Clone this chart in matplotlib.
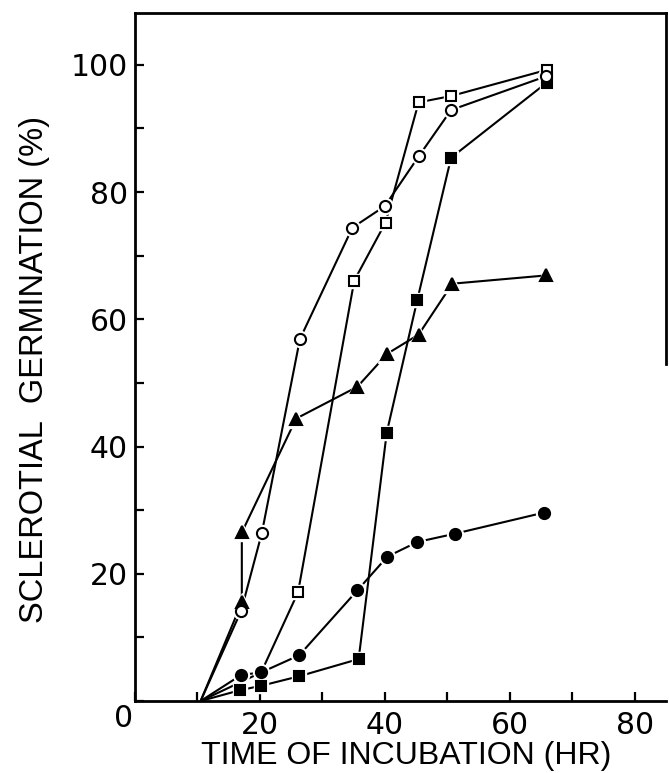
import matplotlib
matplotlib.use('Agg')
import matplotlib.pyplot as plt

# time of incubation (hr) and germination (%) for each treatment
open_circle_x = [10.5, 17.0, 20.3, 26.4, 34.8, 40.0, 45.4, 50.6, 65.8]
open_circle_y = [0, 14.2, 26.4, 56.9, 74.4, 77.8, 85.6, 92.9, 98.2]

open_square_x = [10.5, 20.2, 26.1, 35.1, 40.1, 45.4, 50.6, 65.9]
open_square_y = [0, 4.5, 17.1, 66.1, 75.2, 94.1, 95.1, 99.2]

triangle_x = [10.5, 17.1, 17.1, 25.8, 35.6, 40.4, 45.4, 50.8, 65.8]
triangle_y = [0, 15.5, 26.5, 44.4, 49.4, 54.6, 57.6, 65.6, 66.9]

filled_square_x = [10.5, 16.8, 20.2, 26.3, 35.8, 40.3, 45.2, 50.6, 65.9]
filled_square_y = [0, 1.7, 2.4, 3.9, 6.6, 42.2, 63.1, 85.4, 97.2]

filled_circle_x = [10.5, 17.0, 20.2, 26.3, 35.6, 40.4, 45.2, 51.2, 65.4]
filled_circle_y = [0, 4.1, 4.5, 7.2, 17.4, 22.7, 25.0, 26.3, 29.6]

x_ticks = [0, 10, 20, 30, 40, 50, 60, 70, 80]
x_ticklabels = ['', '', '20', '', '40', '', '60', '', '80']
y_ticks = [0, 10, 20, 30, 40, 50, 60, 70, 80, 90, 100]
y_ticklabels = ['', '', '20', '', '40', '', '60', '', '80', '', '100']

# (x, y, marker, size, filled, first marked point)
# the origin carries no marker; the open square at 20 hr hides under the filled circle
series = [
    (triangle_x, triangle_y, '^', 9, True, 1),
    (open_square_x, open_square_y, 's', 7, False, 2),
    (filled_square_x, filled_square_y, 's', 7, True, 1),
    (filled_circle_x, filled_circle_y, 'o', 8, True, 1),
    (open_circle_x, open_circle_y, 'o', 8, False, 1),
]

fig = plt.figure(figsize=(6.69, 7.73), dpi=100)
ax = fig.add_axes([0.2018, 0.0931, 0.7937, 0.8905])

# lines first, then a white halo around each point so lines stop short of markers
for x, y, m, ms, filled, k in series:
    ax.plot(x, y, color='black', lw=1.5, zorder=2, solid_capstyle='butt')
for x, y, m, ms, filled, k in series:
    ax.plot(x[k:], y[k:], ls='none', marker=m, ms=ms + 3.5, color='white',
            mec='white', zorder=3)
for i, (x, y, m, ms, filled, k) in enumerate(series):
    ax.plot(x[k:], y[k:], ls='none', marker=m, ms=ms, mew=1.5, mec='black',
            mfc='black' if filled else 'white', zorder=4 + i)

ax.set_xlim(0, 85)
ax.set_ylim(0, 108.2)

ax.set_xticks(x_ticks)
ax.set_xticklabels(x_ticklabels)
ax.set_yticks(y_ticks)
ax.set_yticklabels(y_ticklabels)
ax.tick_params(direction='in', length=6.5, width=1.6, labelsize=21.5, color='black')
ax.tick_params(axis='x', pad=7)
ax.tick_params(axis='y', pad=5)

for s in ax.spines.values():
    s.set_linewidth(2.0)
ax.spines['right'].set_bounds(53, 108.2)

ax.text(-1.9, -2.7, '0', fontsize=21.5, ha='center', va='center', clip_on=False)

fig.text(0.607, 0.011, 'TIME OF INCUBATION (HR)', fontsize=23,
         family='Liberation Sans', ha='center', va='baseline')
fig.text(0.051, 0.5226, 'SCLEROTIAL  GERMINATION (%)', fontsize=23.5,
         family='Liberation Sans', rotation=90, ha='center', va='center')

fig.savefig('out.png', dpi=100)
